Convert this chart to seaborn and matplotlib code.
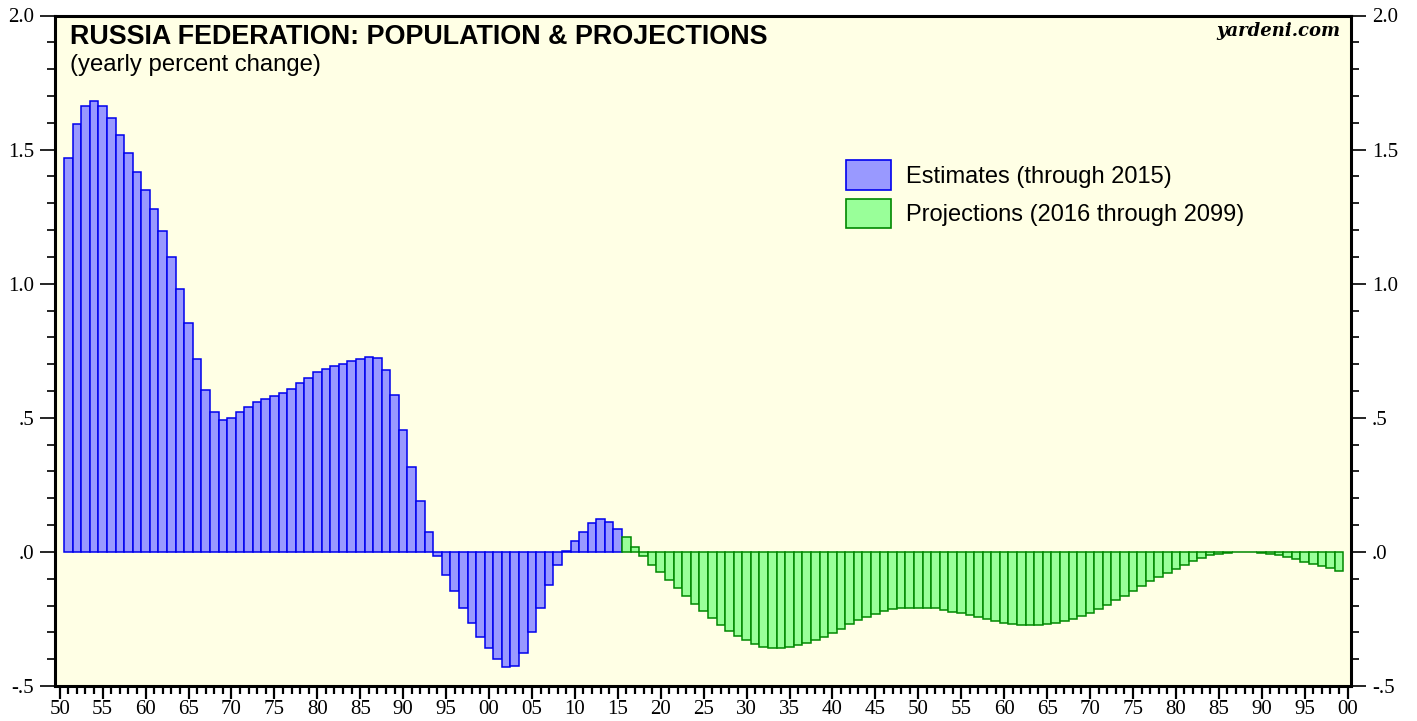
import matplotlib
matplotlib.use("Agg")
import matplotlib.pyplot as plt
from matplotlib.ticker import MultipleLocator
from matplotlib.patches import Patch
import seaborn as sns
import pandas as pd

# ---------------- data ----------------
est_years = list(range(1951, 2016))
est_values = [1.469, 1.597, 1.663, 1.680, 1.662, 1.616, 1.555, 1.488, 1.418, 1.350,
              1.279, 1.198, 1.100, 0.981, 0.853, 0.720, 0.602, 0.522, 0.493, 0.501,
              0.522, 0.540, 0.559, 0.571, 0.583, 0.594, 0.609, 0.628, 0.649, 0.669,
              0.683, 0.692, 0.700, 0.710, 0.719, 0.726, 0.723, 0.677, 0.585, 0.456,
              0.318, 0.188, 0.073,
              -0.015, -0.086, -0.147, -0.210, -0.266, -0.316, -0.359, -0.400, -0.429,
              -0.424, -0.378, -0.300, -0.209, -0.123, -0.050, 0.005, 0.040, 0.075,
              0.107, 0.121, 0.112, 0.086]

proj_years = list(range(2016, 2100))
proj_values = [0.054, 0.017, -0.016, -0.048, -0.075, -0.105, -0.136, -0.166, -0.196, -0.222,
               -0.248, -0.274, -0.295, -0.313, -0.328, -0.342, -0.353, -0.359, -0.359, -0.354,
               -0.348, -0.340, -0.328, -0.316, -0.303, -0.286, -0.269, -0.253, -0.241, -0.231,
               -0.221, -0.214, -0.209, -0.208, -0.208, -0.209, -0.211, -0.216, -0.223, -0.229,
               -0.236, -0.244, -0.250, -0.257,
               -0.266, -0.269, -0.273, -0.274, -0.273, -0.269, -0.264, -0.258, -0.249, -0.240,
               -0.227, -0.212, -0.197, -0.180, -0.164, -0.146, -0.128, -0.110, -0.094, -0.077,
               -0.062, -0.047, -0.035, -0.022, -0.013, -0.007, -0.004, -0.001, -0.001, -0.001,
               -0.004, -0.007, -0.012, -0.020, -0.027, -0.036, -0.044, -0.051, -0.060, -0.070]

xtick_years = list(range(1950, 2101, 5))
xtick_labels = ["50", "55", "60", "65", "70", "75", "80", "85", "90", "95", "00",
                "05", "10", "15", "20", "25", "30", "35", "40", "45", "50",
                "55", "60", "65", "70", "75", "80", "85", "90", "95", "00"]
ytick_values = [-0.5, 0.0, 0.5, 1.0, 1.5, 2.0]
ytick_labels = ["-.5", ".0", ".5", "1.0", "1.5", "2.0"]

title = "RUSSIA FEDERATION: POPULATION & PROJECTIONS"
subtitle = "(yearly percent change)"
source = "yardeni.com"
legend_labels = ["Estimates (through 2015)", "Projections (2016 through 2099)"]

# ---------------- style ----------------
sns.set_style("ticks")
plt.rcParams["font.family"] = ["Liberation Sans", "DejaVu Sans"]
plt.rcParams["text.color"] = "black"
plt.rcParams["xtick.color"] = "black"
plt.rcParams["ytick.color"] = "black"
plt.rcParams["axes.labelcolor"] = "black"

W, H = 1417, 721
fig = plt.figure(figsize=(W / 100, H / 100), dpi=100)
fig.patch.set_facecolor("white")
ax = fig.add_axes([55 / W, 1 - 686 / H, (1351 - 55) / W, (686 - 15.5) / H])
ax.set_facecolor("#FFFFE5")

est_df = pd.DataFrame({"year": est_years, "value": est_values})
proj_df = pd.DataFrame({"year": proj_years, "value": proj_values})

sns.barplot(data=est_df, x="year", y="value", native_scale=True, width=1.0,
            color="#9999FF", edgecolor="#0000EE", linewidth=1.1, saturation=1,
            errorbar=None, ax=ax, zorder=3)
sns.barplot(data=proj_df, x="year", y="value", native_scale=True, width=1.0,
            color="#99FF99", edgecolor="#008800", linewidth=1.1, saturation=1,
            errorbar=None, ax=ax, zorder=3)

ax.set_xlim(1949.45, 2100.4)
ax.set_ylim(-0.5, 2.0)
ax.set_xlabel("")
ax.set_ylabel("")

ax.set_xticks(xtick_years)
ax.set_xticklabels(xtick_labels)
ax.xaxis.set_minor_locator(MultipleLocator(1))
ax.set_yticks(ytick_values)
ax.set_yticklabels(ytick_labels)
ax.yaxis.set_minor_locator(MultipleLocator(0.1))

tick_family = ["Liberation Serif", "DejaVu Serif"]
tick_size = 15

ax.tick_params(axis="y", which="major", direction="out", length=11, width=1.2,
               left=True, right=True, labelleft=True, labelright=True, pad=4,
               colors="black")
ax.tick_params(axis="y", which="minor", direction="out", length=5.5, width=1.2,
               left=True, right=True)
ax.tick_params(axis="x", which="major", direction="out", length=9, width=1.6,
               bottom=True, top=False, pad=1, colors="black")
ax.tick_params(axis="x", which="minor", direction="out", length=5.5, width=1.6,
               bottom=True, top=False)
for t in ax.xaxis.get_major_ticks() + ax.yaxis.get_major_ticks():
    for lab in (t.label1, t.label2):
        lab.set_fontfamily(tick_family)
        lab.set_fontsize(tick_size)
        lab.set_color("black")

for s in ax.spines.values():
    s.set_visible(True)
    s.set_linewidth(2.2)
    s.set_color("black")
    s.set_zorder(5)

# ---------------- texts ----------------
fig.text(70 / W, 1 - 44 / H, title, fontsize=19.4, fontweight="bold",
         family=["Liberation Sans", "DejaVu Sans"], va="baseline", ha="left",
         color="black")
fig.text(70 / W, 1 - 71 / H, subtitle, fontsize=17.2,
         family=["Liberation Sans", "DejaVu Sans"], va="baseline", ha="left",
         color="black")
fig.text(1340 / W, 1 - 36 / H, source, fontsize=13, fontweight="bold",
         fontstyle="italic", family=["DejaVu Serif"], va="baseline", ha="right",
         color="black")

handles = [Patch(facecolor="#9999FF", edgecolor="#0000EE", linewidth=1.2),
           Patch(facecolor="#99FF99", edgecolor="#008800", linewidth=1.2)]
leg = fig.legend(handles, legend_labels, loc="upper left",
                 bbox_to_anchor=(846 / W, 1 - 160 / H), frameon=False,
                 prop={"family": ["Liberation Sans", "DejaVu Sans"], "size": 17},
                 handlelength=1.9, handleheight=1.55, handletextpad=0.62,
                 labelspacing=0.38, borderpad=0, borderaxespad=0)
for txt in leg.get_texts():
    txt.set_color("black")

fig.savefig("out.png", dpi=100, facecolor="white")
